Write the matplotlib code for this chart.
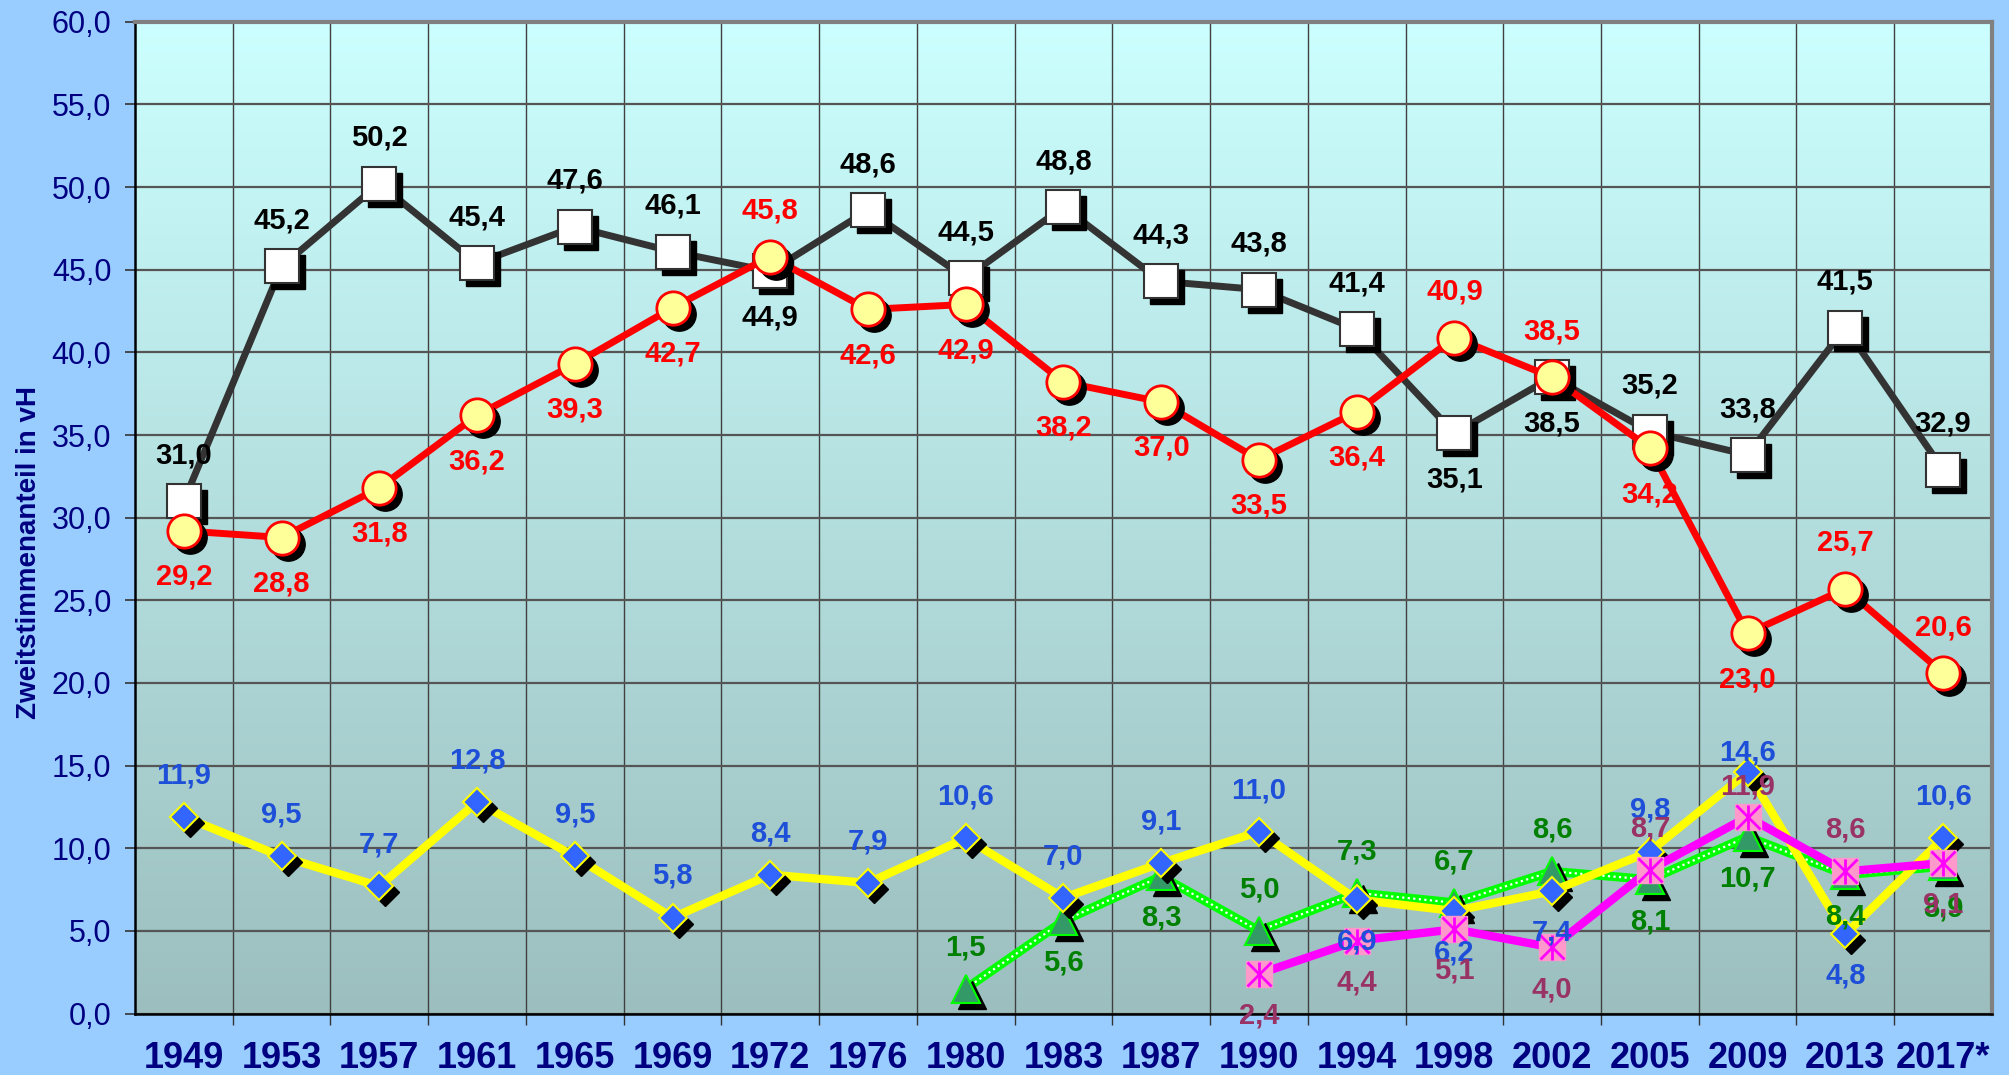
import numpy as np
import matplotlib
matplotlib.use("Agg")
import matplotlib.pyplot as plt
from matplotlib.transforms import offset_copy

plt.rcParams['font.family'] = ['Liberation Sans', 'DejaVu Sans']

years = ["1949", "1953", "1957", "1961", "1965", "1969", "1972", "1976", "1980", "1983",
         "1987", "1990", "1994", "1998", "2002", "2005", "2009", "2013", "2017*"]
cdu = [31.0, 45.2, 50.2, 45.4, 47.6, 46.1, 44.9, 48.6, 44.5, 48.8,
       44.3, 43.8, 41.4, 35.1, 38.5, 35.2, 33.8, 41.5, 32.9]
spd = [29.2, 28.8, 31.8, 36.2, 39.3, 42.7, 45.8, 42.6, 42.9, 38.2,
       37.0, 33.5, 36.4, 40.9, 38.5, 34.2, 23.0, 25.7, 20.6]
fdp = [11.9, 9.5, 7.7, 12.8, 9.5, 5.8, 8.4, 7.9, 10.6, 7.0,
       9.1, 11.0, 6.9, 6.2, 7.4, 9.8, 14.6, 4.8, 10.6]
gruene = [None] * 8 + [1.5, 5.6, 8.3, 5.0, 7.3, 6.7, 8.6, 8.1, 10.7, 8.4, 8.9]
linke = [None] * 11 + [2.4, 4.4, 5.1, 4.0, 8.7, 11.9, 8.6, 9.1]

# label placement: a = above, b = below
cdu_pos = "aaaaaabaaaaaabbaaaa"
spd_pos = "bbbbbbabbbbbbaabbaa"
fdp_pos = "aaaaaaaaaaaabbbaaba"
gruene_pos = " " * 8 + "abbaaaabbbb"
linke_pos = " " * 11 + "bbbbaaab"
# a few labels sit closer to their marker
fdp_near = {16: 14}
linke_near = {16: 22}

fig = plt.figure(figsize=(20.09, 10.75), dpi=100, facecolor="#99CCFF")
ax = fig.add_axes([0.0672, 0.0572, 0.9243, 0.9225])

# gradient background
top = np.array([0xCC, 0xFF, 0xFF]) / 255
bot = np.array([0x9C, 0xBE, 0xBE]) / 255
t = np.linspace(0, 1, 256)[:, None, None]
grad = top * (1 - t) + bot * t
ax.imshow(grad, extent=[0, 1, 0, 1], transform=ax.transAxes, aspect="auto", zorder=0)

x = np.arange(len(years))
shadow = offset_copy(ax.transData, fig=fig, x=6, y=-6, units="dots")


def arr(v):
    return np.array([np.nan if a is None else a for a in v], dtype=float)


def fmt(v):
    return f"{v:.1f}".replace(".", ",")


def labels(vals, pos, color, off, near=None):
    near = near or {}
    for i, v in enumerate(vals):
        if v is None:
            continue
        d = near.get(i, off)
        dy = d if pos[i] == "a" else -d
        ax.annotate(fmt(v), (x[i], v), xytext=(0, dy), textcoords="offset points",
                    ha="center", va="center", fontsize=21, fontweight="bold",
                    color=color, zorder=20)


# CDU/CSU
y = arr(cdu)
ax.plot(x, y, color="#333333", lw=5, zorder=3, solid_capstyle="round")
ax.plot(x, y, ls="none", marker="s", ms=24, mfc="black", mec="black", transform=shadow, zorder=3)
ax.plot(x, y, ls="none", marker="s", ms=24, mfc="white", mec="#333333", mew=1.5, zorder=4)

# SPD
y = arr(spd)
ax.plot(x, y, color="#FF0000", lw=5, zorder=5)
ax.plot(x, y, ls="none", marker="o", ms=24, mfc="black", mec="black", transform=shadow, zorder=5)
ax.plot(x, y, ls="none", marker="o", ms=24, mfc="#FFFF99", mec="#FF0000", mew=2, zorder=6)

# Gruene
y = arr(gruene)
ax.plot(x, y, color="#00FF00", lw=6.5, zorder=7)
ax.plot(x, y, color="white", lw=1.6, ls=(0, (1, 1.5)), zorder=7)
ax.plot(x, y, ls="none", marker="^", ms=20, mfc="black", mec="black", transform=shadow, zorder=7)
ax.plot(x, y, ls="none", marker="^", ms=20, mfc="#339966", mec="#00FF00", mew=1.5, zorder=8)

# FDP
y = arr(fdp)
ax.plot(x, y, color="#FFFF00", lw=6, zorder=9)
ax.plot(x, y, ls="none", marker="D", ms=14, mfc="black", mec="black", transform=shadow, zorder=9)
ax.plot(x, y, ls="none", marker="D", ms=14, mfc="#3366FF", mec="#FFFF00", mew=1.5, zorder=10)

# Linke
y = arr(linke)
ax.plot(x, y, color="#FF00FF", lw=6, zorder=11)
ax.plot(x, y, ls="none", marker="s", ms=18.5, mfc="#FF99CC", mec="#FF99CC", zorder=12)
ax.plot(x, y, ls="none", marker="x", ms=17, mec="#FF00FF", mew=2, zorder=13)
ax.plot(x, y, ls="none", marker="|", ms=18, mec="#FF00FF", mew=2, zorder=13)

labels(cdu, cdu_pos, "black", 33)
labels(spd, spd_pos, "#FF0000", 33)
labels(gruene, gruene_pos, "#008000", 30)
labels(fdp, fdp_pos, "#1E4FD8", 30, fdp_near)
labels(linke, linke_pos, "#993366", 30, linke_near)

ax.set_xlim(-0.5, len(years) - 0.5)
ax.set_ylim(0, 60)
ax.set_yticks(np.arange(0, 61, 5))
ax.set_yticklabels([fmt(v) for v in np.arange(0, 61, 5)], fontsize=22, color="#000080")
ax.set_xticks(x)
ax.set_xticklabels(years, fontsize=26, fontweight="bold", color="#000080")
ax.set_xticks(x[:-1] + 0.5, minor=True)
ax.tick_params(axis="x", which="major", length=0, pad=20)
ax.tick_params(axis="x", which="minor", length=8, width=1, color="#333333", direction="out")
ax.tick_params(axis="y", length=7, width=1.2, color="#333333", direction="out", pad=10)

ax.grid(axis="y", which="major", color="#555555", lw=1.6, zorder=1)
ax.grid(axis="x", which="minor", color="#404040", lw=1.0, zorder=1)
ax.set_axisbelow(True)

for s in ["left", "bottom"]:
    ax.spines[s].set_color("black")
    ax.spines[s].set_linewidth(1.8)
for s in ["top", "right"]:
    ax.spines[s].set_color("#808080")
    ax.spines[s].set_linewidth(3)

ax.set_ylabel("Zweitstimmenanteil in vH", fontsize=20, fontweight="bold", color="#000080")
ax.yaxis.set_label_coords(-0.050, 0.465)

fig.savefig("out.png", dpi=100, facecolor=fig.get_facecolor())
